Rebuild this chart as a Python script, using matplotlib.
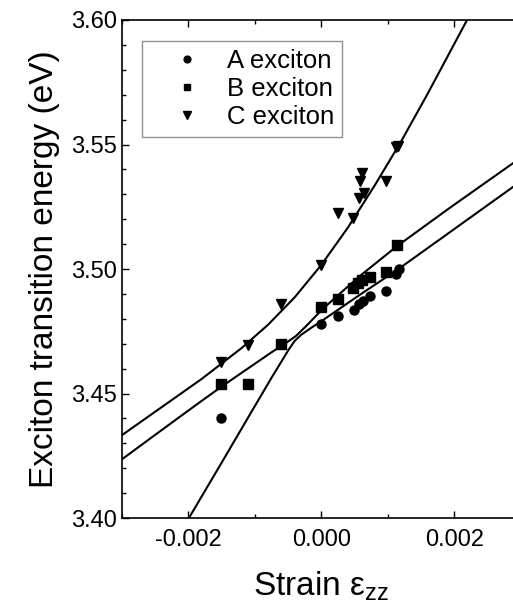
import matplotlib.pyplot as plt
from matplotlib.ticker import MultipleLocator, FormatStrFormatter

plt.rcParams["font.family"] = ["Liberation Sans", "DejaVu Sans"]
plt.rcParams["mathtext.fontset"] = "custom"
plt.rcParams["mathtext.rm"] = "Liberation Sans"
plt.rcParams["mathtext.it"] = "Liberation Sans"

# measured exciton energies (eV) vs strain
a_strain = [-0.0015, 0.0, 0.00025, 0.00049, 0.00057, 0.00063, 0.00073, 0.00097, 0.00112, 0.00117]
a_energy = [3.440, 3.478, 3.481, 3.4835, 3.486, 3.4873, 3.489, 3.491, 3.498, 3.500]

b_strain = [-0.0015, -0.0011, -0.0006, 0.0, 0.00025, 0.00048, 0.00056, 0.00062, 0.00073, 0.00097, 0.00114]
b_energy = [3.4538, 3.4538, 3.4699, 3.4849, 3.4878, 3.4922, 3.4943, 3.4956, 3.4969, 3.4989, 3.5096]

c_strain = [-0.0015, -0.0011, -0.0006, 0.0, 0.00025, 0.00048, 0.00057, 0.00065, 0.00059,
            0.00061, 0.00097, 0.00112, 0.00116]
c_energy = [3.4625, 3.4695, 3.4858, 3.5016, 3.5225, 3.5204, 3.5284, 3.5306, 3.5355,
            3.5387, 3.5355, 3.5488, 3.5494]

# fitted curves
fit_lo_x = [-0.0021, -0.0015, -0.00105, -0.00075, -0.00057, -0.0005, -0.0004, -0.0003,
            -0.00015, 0.0, 0.0006, 0.00114, 0.00194, 0.0030]
fit_lo_y = [3.395, 3.4221, 3.4426, 3.4562, 3.4641, 3.4672, 3.4711, 3.4736,
            3.4764, 3.479, 3.4900, 3.4996, 3.5149, 3.5352]

fit_mid_x = [-0.0030, -0.0024, -0.0018, -0.001475, -0.00105, -0.00075, -0.00053, -0.00038,
             -0.00023, 0.00002, 0.0003, 0.00059, 0.00114, 0.00194, 0.0030]
fit_mid_y = [3.4235, 3.4353, 3.4470, 3.4532, 3.4610, 3.4665, 3.4703, 3.4731,
             3.4770, 3.4839, 3.4906, 3.4974, 3.5092, 3.5247, 3.5447]

fit_hi_x = [-0.0030, -0.0018, -0.0012, -0.0008, -0.0004, 0.0, 0.0004, 0.0008,
            0.0012, 0.0016, 0.0021, 0.0023]
fit_hi_y = [3.4332, 3.4558, 3.4682, 3.4776, 3.4886, 3.5016, 3.5166, 3.5334,
            3.5512, 3.5704, 3.5954, 3.6054]

fig = plt.figure(figsize=(5.13, 6.06), dpi=100)
ax = fig.add_axes([0.2372, 0.1452, 0.778, 0.8218])

for fx, fy in [(fit_lo_x, fit_lo_y), (fit_mid_x, fit_mid_y), (fit_hi_x, fit_hi_y)]:
    ax.plot(fx, fy, color="black", lw=1.5)

ax.plot(a_strain, a_energy, "o", color="black", ms=6.5, label="A exciton")
ax.plot(b_strain, b_energy, "s", color="black", ms=6.5, label="B exciton")
ax.plot(c_strain, c_energy, "v", color="black", ms=7.5, label="C exciton")

ax.set_xlim(-0.003, 0.003)
ax.set_ylim(3.40, 3.60)
ax.xaxis.set_major_locator(MultipleLocator(0.002))
ax.xaxis.set_minor_locator(MultipleLocator(0.001))
ax.yaxis.set_major_locator(MultipleLocator(0.05))
ax.yaxis.set_minor_locator(MultipleLocator(0.01))
ax.xaxis.set_major_formatter(FormatStrFormatter("%.3f"))
ax.yaxis.set_major_formatter(FormatStrFormatter("%.2f"))
ax.tick_params(which="both", direction="in", top=True, right=False, labelsize=17, width=1)
ax.tick_params(which="major", length=5)
ax.tick_params(which="minor", length=3)
ax.tick_params(axis="x", pad=8)
for s in ax.spines.values():
    s.set_linewidth(1.2)

ax.set_xlabel(r"Strain $\varepsilon_{zz}$", fontsize=24, labelpad=13)
ax.set_ylabel("Exciton transition energy (eV)", fontsize=24, labelpad=8)

leg = ax.legend(loc="upper left", bbox_to_anchor=(0.051, 0.957), borderaxespad=0,
                fontsize=18.5, fancybox=False, edgecolor="#777777", handlelength=2.9,
                handletextpad=0.1, labelspacing=0.15, borderpad=0.3, markerscale=0.75)
leg.get_frame().set_linewidth(1.0)

fig.savefig("out.png", dpi=100)
